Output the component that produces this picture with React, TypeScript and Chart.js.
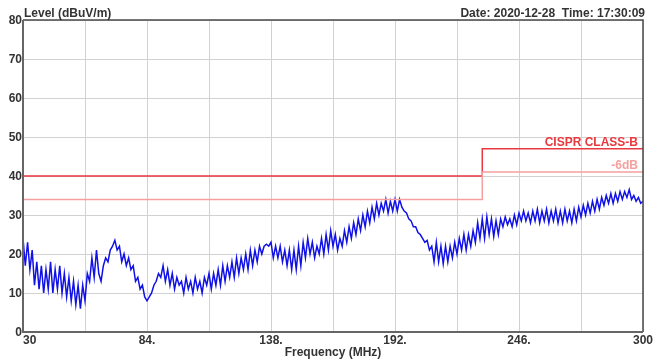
import React, { useEffect, useRef } from "react";
import { Chart, registerables } from "chart.js";

Chart.register(...registerables);

// Sweep: 30 MHz .. 300 MHz, one reading per MHz
const FREQ_START = 30;
const FREQ_STEP = 1;
const LEVELS = [
  24, 17, 23, 16, 21, 12, 18, 11, 17, 10,
  16, 11, 18, 10, 16, 11, 17, 10, 15, 9,
  14, 8, 13, 7, 12, 6, 12, 8, 15, 13,
  19, 14, 21, 15, 13, 17, 19, 18, 21, 22,
  23.5, 21, 22, 18, 20, 17, 19, 16, 17, 13,
  14, 11, 12, 9, 8, 9, 10, 12, 13, 15,
  14, 17, 13, 16, 12, 15, 11, 14, 12, 13,
  10, 14, 11, 13, 10, 14, 11, 13, 10, 14,
  12, 15, 11, 15, 12, 16, 12, 17, 13, 17,
  14, 18, 14, 19, 15, 19, 16, 20, 16, 21,
  17, 21, 18, 22, 20, 22, 22.5, 22, 23, 19,
  22, 19, 22, 18, 21, 17, 21, 16, 21, 16,
  22, 17, 23, 19, 24, 20, 23, 19, 22, 20,
  24, 20, 25, 21, 26, 22, 25, 21, 24, 22,
  26, 23, 27, 24, 28, 25, 29, 26, 30, 27,
  31, 28, 32, 29, 33, 30, 33, 31, 34, 30.5,
  33.5, 31, 34, 31, 34, 32, 31, 30.5, 29, 28.5,
  27, 27, 25.5, 25, 24, 23, 23.5, 21, 22, 18,
  23, 18, 22, 17.5, 22, 18, 22, 19, 23, 20,
  24, 21, 25, 21, 25, 22, 26, 23, 28, 24,
  29, 24, 29.5, 25, 29, 24.5, 28.5, 25, 29, 27,
  29.5, 27.5, 29, 27, 30, 27.5, 30.5, 28.5, 31, 28.5,
  30.5, 28, 31, 28.5, 31.5, 28, 31, 28.5, 31.5, 28,
  31, 28.5, 31.5, 28, 31, 28, 31.5, 28.5, 31, 28,
  31.5, 28.5, 32, 29.5, 32.5, 30, 33, 30.5, 33.5, 31,
  34, 31.5, 34.5, 32.5, 35, 33, 35.5, 33, 35.5, 33.5,
  36, 34, 36, 34.5, 36.5, 34, 35, 33.5, 34.5, 33,
  33.5,
];

const LIMIT_FREQ = [30, 230, 230, 300];
const LIMIT_CLASS_B = [40, 40, 47, 47];
const LIMIT_MINUS6 = [34, 34, 41, 41];

const X_TICKS = [30, 84, 138, 192, 246, 300];
const X_TICK_LABELS = ["30", "84.", "138.", "192.", "246.", "300"];
const Y_TICKS = [0, 10, 20, 30, 40, 50, 60, 70, 80];

const TITLE_LEFT = "Level (dBuV/m)";
const TITLE_RIGHT = "Date: 2020-12-28  Time: 17:30:09";
const X_TITLE = "Frequency (MHz)";
const LABEL_LIMIT = "CISPR CLASS-B";
const LABEL_MINUS6 = "-6dB";

const FONT = "bold 12px 'Liberation Sans', Arial, sans-serif";
const TEXT = "#333333";
const RED = "#e8393f";
const PINK = "#f5a0a0";

export default function App() {
  const ref = useRef<HTMLCanvasElement | null>(null);

  useEffect(() => {
    if (!ref.current) return;
    const trace = LEVELS.map((v, i) => ({ x: FREQ_START + i * FREQ_STEP, y: v }));
    const lim = LIMIT_FREQ.map((f, i) => ({ x: f, y: LIMIT_CLASS_B[i] }));
    const lim6 = LIMIT_FREQ.map((f, i) => ({ x: f, y: LIMIT_MINUS6[i] }));

    const decor = {
      id: "decor",
      afterDraw(chart: any) {
        const { ctx, chartArea: a, scales } = chart;
        const xs = scales.x;
        const ys = scales.y;
        ctx.save();
        // frame
        ctx.strokeStyle = "#4a4a4a";
        ctx.lineWidth = 1.5;
        ctx.beginPath();
        ctx.moveTo(a.left, a.top);
        ctx.lineTo(a.right, a.top);
        ctx.lineTo(a.right, a.bottom);
        ctx.stroke();
        ctx.strokeStyle = "#666666";
        ctx.lineWidth = 2;
        ctx.beginPath();
        ctx.moveTo(a.left, a.top);
        ctx.lineTo(a.left, a.bottom);
        ctx.lineTo(a.right, a.bottom);
        ctx.stroke();

        ctx.font = FONT;
        ctx.fillStyle = TEXT;
        // y labels
        ctx.textAlign = "right";
        ctx.textBaseline = "middle";
        Y_TICKS.forEach((v) => {
          ctx.fillText(String(v), a.left - 1, ys.getPixelForValue(v) + 1);
        });
        // x labels
        ctx.textBaseline = "middle";
        X_TICKS.forEach((v, i) => {
          const px = xs.getPixelForValue(v);
          ctx.textAlign = i === 0 ? "left" : "center";
          ctx.fillText(X_TICK_LABELS[i], px, a.bottom + 9);
        });
        // titles
        ctx.textAlign = "center";
        ctx.fillText(X_TITLE, (a.left + a.right) / 2, a.bottom + 21);
        ctx.textAlign = "left";
        ctx.textBaseline = "alphabetic";
        ctx.fillText(TITLE_LEFT, a.left + 1, a.top - 3);
        ctx.textAlign = "right";
        ctx.fillText(TITLE_RIGHT, a.right + 2, a.top - 3);
        // limit labels
        ctx.fillStyle = RED;
        ctx.fillText(LABEL_LIMIT, a.right - 5, ys.getPixelForValue(LIMIT_CLASS_B[3]) - 3);
        ctx.fillStyle = PINK;
        ctx.fillText(LABEL_MINUS6, a.right - 5, ys.getPixelForValue(LIMIT_MINUS6[3]) - 3);
        ctx.restore();
      },
    };

    const chart = new Chart(ref.current, {
      type: "line",
      data: {
        datasets: [
          {
            data: lim6,
            borderColor: PINK,
            borderWidth: 1.5,
            pointRadius: 0,
            tension: 0,
          },
          {
            data: lim,
            borderColor: RED,
            borderWidth: 1.5,
            pointRadius: 0,
            tension: 0,
          },
          {
            data: trace,
            borderColor: "#1010e8",
            borderWidth: 1.5,
            pointRadius: 0,
            tension: 0,
          },
        ],
      },
      options: {
        responsive: false,
        animation: false,
        devicePixelRatio: 1,
        layout: { padding: { left: 23, top: 20, right: 11, bottom: 32 } },
        plugins: { legend: { display: false }, tooltip: { enabled: false } },
        scales: {
          x: {
            type: "linear",
            min: 30,
            max: 300,
            ticks: { display: false, stepSize: 27 },
            grid: { color: "#d2d2d2", lineWidth: 1, drawTicks: false },
            border: { display: false },
            afterFit: (s: any) => {
              s.height = 0;
            },
          },
          y: {
            type: "linear",
            min: 0,
            max: 80,
            ticks: { display: false, stepSize: 10 },
            grid: { color: "#d2d2d2", lineWidth: 1, drawTicks: false },
            border: { display: false },
            afterFit: (s: any) => {
              s.width = 0;
            },
          },
        },
      },
      plugins: [decor],
    });
    return () => chart.destroy();
  }, []);

  return (
    <div style={{ position: "fixed", left: 0, top: 0, width: 654, height: 364, background: "#fff" }}>
      <canvas ref={ref} width={654} height={364} style={{ display: "block" }} />
    </div>
  );
}
